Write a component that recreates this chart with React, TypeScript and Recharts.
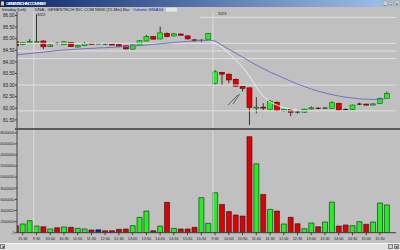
import {
  Bar,
  BarChart,
  Cell,
  ComposedChart,
  Line,
  ReferenceLine,
  XAxis,
  YAxis,
} from "recharts";

// 15-min bars: 15:15-15:45 of the prior session, then 3/22 and 3/23 (9:30-15:45)
const opens = [
  84.87, 84.75, 84.86, 84.85, 84.9, 84.67, 84.79, 84.74, 84.84, 84.64, 84.7, 84.8, 84.78, 84.78, 84.77,
  84.74, 84.69, 84.55, 84.72, 84.9, 85.09, 84.99, 85.22, 85.12, 85.2, 85.12, 84.95, 84.92, 84.97,
  83.07, 83.55, 83.47, 83.25, 82.94, 82.88, 82.02, 82.05, 81.96, 82.26, 81.89, 81.96, 81.85, 81.83,
  81.97, 82.01, 82.0, 82.0, 82.21, 81.94, 81.95, 82.17, 82.18, 82.14, 82.2, 82.43,
];
const highs = [
  84.9, 84.86, 84.98, 86.05, 84.93, 84.76, 84.86, 84.9, 84.86, 84.73, 84.86, 84.82, 84.8, 84.8, 84.79,
  84.76, 84.71, 84.75, 84.94, 85.16, 85.12, 85.52, 85.27, 85.24, 85.22, 85.15, 84.99, 84.97, 85.25,
  83.65, 83.57, 83.5, 83.28, 82.96, 82.9, 82.48, 82.22, 82.35, 82.29, 81.98, 81.98, 81.9, 81.98,
  82.08, 82.05, 82.03, 82.3, 82.24, 81.99, 82.16, 82.24, 82.2, 82.21, 82.46, 82.72,
];
const lows = [
  84.66, 84.72, 84.8, 84.82, 84.55, 84.64, 84.75, 84.72, 84.64, 84.62, 84.68, 84.76, 84.76, 84.74, 84.72,
  84.66, 84.53, 84.53, 84.7, 84.88, 84.96, 84.97, 85.06, 85.09, 85.13, 84.96, 84.88, 84.85, 84.94,
  83.02, 83.0, 83.08, 82.93, 82.72, 81.28, 81.78, 81.92, 81.93, 81.87, 81.86, 81.66, 81.78, 81.81,
  81.95, 81.96, 81.98, 81.98, 81.9, 81.9, 81.93, 82.14, 82.12, 82.12, 82.18, 82.41,
];
const closes = [
  84.69, 84.84, 84.88, 84.88, 84.65, 84.73, 84.8, 84.86, 84.66, 84.71, 84.8, 84.78, 84.78, 84.77, 84.75,
  84.68, 84.56, 84.73, 84.91, 85.1, 84.98, 85.25, 85.09, 85.21, 85.15, 84.99, 84.93, 84.93, 85.22,
  83.57, 83.47, 83.22, 82.95, 82.86, 82.03, 82.05, 82.03, 82.31, 81.9, 81.96, 81.83, 81.84, 81.96,
  82.02, 82.0, 82.01, 82.24, 81.92, 81.95, 82.14, 82.18, 82.14, 82.19, 82.43, 82.64,
];
const ema34 = [
  84.29, 84.33, 84.36, 84.39, 84.42, 84.45, 84.49, 84.51, 84.53, 84.55, 84.57, 84.58, 84.6, 84.61, 84.63,
  84.64, 84.66, 84.68, 84.7, 84.73, 84.75, 84.78, 84.81, 84.84, 84.86, 84.88, 84.9, 84.92, 84.93,
  84.9, 84.72, 84.55, 84.38, 84.21, 84.03, 83.86, 83.71, 83.56, 83.43, 83.3, 83.17, 83.04, 82.94,
  82.83, 82.74, 82.66, 82.59, 82.53, 82.48, 82.44, 82.41, 82.39, 82.38, 82.38, 82.42,
];
// light trail line after the gap down (only on 3/23 morning)
const trail: (number | null)[] = [
  null, null, null, null, null, null, null, null, null, null, null, null, null, null, null,
  null, null, null, null, null, null, null, null, null, null, null, null, null, 84.94,
  84.81, 84.64, 84.38, 84.08, 83.78, 83.39, 82.91, 82.53, 82.27, 82.14, 82.03, 81.97, 81.92, null,
  null, null, null, null, null, null, null, null, null, null, null, null,
];
const volumes = [
  1260000, 1570000, 2160000, 1200000, 1080000, 670000, 900000, 1030000, 970000, 790000,
  670000, 490000, 540000, 360000, 360000, 610000, 670000, 1260000, 2770000, 3900000,
  360000, 1200000, 5470000, 790000, 670000, 670000, 970000, 6300000, 1690000, 7200000,
  5100000, 3800000, 3200000, 3000000, 17300000, 12400000, 6900000, 4200000, 3900000, 1570000,
  2770000, 1620000, 720000, 1750000, 1080000, 1930000, 5500000, 1200000, 1390000, 1260000,
  1980000, 1510000, 1930000, 5350000, 5000000,
];
// u = up, d = down, n = unchanged
const volumeDir = [
  "d", "u", "u", "u", "d", "u", "d", "u", "d", "u", "u", "d", "n", "d", "d", "d", "d", "u", "u", "u",
  "d", "u", "d", "u", "d", "d", "d", "u", "u", "u", "d", "d", "d", "d", "d", "u", "d", "u", "d", "u",
  "d", "d", "u", "u", "d", "u", "u", "d", "d", "u", "u", "d", "u", "u", "u",
];
const timeTicks = [1, 3, 5, 7, 9, 11, 13, 15, 17, 19, 21, 23, 25, 27, 29, 31, 33, 35, 37, 39, 41, 43, 45, 47, 49, 51, 53];
const timeLabels = [
  "15:30", "9:30", "10:00", "10:30", "11:00", "11:30", "12:00", "12:30", "13:00", "13:30", "14:00",
  "14:30", "15:00", "15:30", "9:30", "10:00", "10:30", "11:00", "11:30", "12:00", "12:30", "13:00",
  "13:30", "14:00", "14:30", "15:00", "15:30",
];
const priceTicks = [81.5, 82, 82.5, 83, 83.5, 84, 84.5, 85, 85.5, 86];
const volumeTicks = [0, 2e6, 4e6, 6e6, 8e6, 10e6, 12e6, 14e6, 16e6, 18e6];
const guideLevels = [84.8, 84.47, 84.14, 83.0, 81.89];
const daySplits = [2.6, 28.7];

const COLORS = {
  bg: "#c0c0c0",
  up: "#22f022",
  down: "#e00000",
  flat: "#1020c0",
  ema: "#7272c8",
  guide: "#e2e2e2",
  axis: "#404040",
  text: "#202020",
};
const FONT = "'Liberation Sans', Arial, sans-serif";
const xDomain: [number, number] = [0.17, 55.34];

const priceData = opens.map((o, i) => ({
  i,
  open: o,
  high: highs[i],
  low: lows[i],
  close: closes[i],
  ema: ema34[i],
  trail: trail[i],
}));
const volumeData = volumes.map((v, i) => ({ i, vol: v, dir: volumeDir[i] }));

// eslint-disable-next-line @typescript-eslint/no-explicit-any
function Candle(props: any) {
  const { x, y, width, height, payload } = props;
  if (!payload) return null;
  const { open, close, high, low } = payload;
  const top = height >= 0 ? y : y + height;
  const h = Math.abs(height);
  const ppu = h / (high - low);
  const yOf = (v: number) => top + (high - v) * ppu;
  const cx = x + width / 2;
  const diff = close - open;
  const wick = <line x1={cx} x2={cx} y1={yOf(high)} y2={yOf(low)} stroke="#111" strokeWidth={0.8} />;
  if (Math.abs(diff) < 0.015) {
    return (
      <g>
        {wick}
        <line x1={x} x2={x + width} y1={yOf(close)} y2={yOf(close)} stroke="#111" strokeWidth={1} />
      </g>
    );
  }
  const bTop = yOf(Math.max(open, close));
  const bH = Math.max(1, yOf(Math.min(open, close)) - bTop);
  return (
    <g>
      {wick}
      <rect
        x={x}
        y={bTop}
        width={width}
        height={bH}
        fill={diff > 0 ? COLORS.up : COLORS.down}
        stroke={diff > 0 ? "#156015" : "#600000"}
        strokeWidth={0.6}
      />
    </g>
  );
}

function Header() {
  return (
    <svg
      width={400}
      height={18}
      style={{ position: "absolute", left: 0, top: 0, pointerEvents: "none" }}
      fontFamily={FONT}
    >
      <defs>
        <linearGradient id="tb" x1="0" x2="1" y1="0" y2="0">
          <stop offset="0" stopColor="#0a246a" />
          <stop offset="1" stopColor="#a6c4ec" />
        </linearGradient>
      </defs>
      <rect x={0} y={0} width={400} height={7} fill="url(#tb)" />
      <rect x={1} y={1.5} width={3} height={4} fill="#e0d080" />
      <text x={6} y={5.4} fontSize={4.4} fill="#fff" fontWeight="bold" textLength={40}>
        GENENTECH INC COM NEW
      </text>
      {[383, 389, 395].map((bx, k) => (
        <g key={bx}>
          <rect x={bx} y={1} width={4.6} height={4.6} fill="#d4d0c8" stroke="#808080" strokeWidth={0.4} />
          <text x={bx + 1.1} y={4.9} fontSize={3.6} fill="#000">
            {k === 0 ? "_" : k === 1 ? "□" : "x"}
          </text>
        </g>
      ))}
      <text x={2} y={10.8} fontSize={4.3} fill={COLORS.text} textLength={24}>
        Intraday (Left)
      </text>
      <text x={35} y={10.8} fontSize={4.3} fill={COLORS.text} textLength={87}>
        DNA - GENENTECH INC COM NEW (15-Min)
      </text>
      <text x={123} y={10.8} fontSize={4.3} fill={COLORS.text}>
        Bar
      </text>
      <text x={133} y={10.8} fontSize={4.3} fill="#2020c0">
        Volume
      </text>
      <text x={149} y={10.8} fontSize={4.3} fill="#2020c0">
        EMA34
      </text>
      <rect x={166} y={7.6} width={11} height={4} fill="#e6e6e6" />
      <text x={37} y={16} fontSize={4.3} fill={COLORS.text}>
        3/22
      </text>
      <text x={218} y={15} fontSize={4.3} fill={COLORS.text}>
        3/23
      </text>
    </svg>
  );
}

export default function App() {
  const tickStyle = { fontSize: 4.6, fill: COLORS.text, fontFamily: FONT };
  return (
    <div
      style={{
        position: "absolute",
        left: 0,
        top: 0,
        width: 400,
        height: 250,
        background: COLORS.bg,
        overflow: "hidden",
      }}
    >
      <div style={{ position: "absolute", left: 0, top: 0 }}>
        <ComposedChart
          width={400}
          height={130}
          data={priceData}
          margin={{ top: 12, right: 4, bottom: 2, left: 0 }}
        >
          <XAxis dataKey="i" type="number" domain={xDomain} allowDataOverflow hide />
          <YAxis
            domain={[81.15, 86.15]}
            allowDataOverflow
            ticks={priceTicks}
            interval={0}
            width={17}
            tick={tickStyle}
            tickSize={2}
            tickMargin={0.5}
            tickFormatter={(v: number) => v.toFixed(2)}
            axisLine={{ stroke: COLORS.axis }}
            tickLine={{ stroke: COLORS.axis }}
          />
          {guideLevels.map((lv) => (
            <ReferenceLine key={lv} y={lv} stroke={COLORS.guide} strokeWidth={1} />
          ))}
          <ReferenceLine
            segment={[
              { x: 26.8, y: 85.92 },
              { x: 55.34, y: 85.92 },
            ]}
            stroke={COLORS.guide}
          />
          {daySplits.map((d) => (
            <ReferenceLine key={d} x={d} stroke="#dcdcdc" strokeWidth={1} />
          ))}
          <ReferenceLine
            segment={[
              { x: 30.9, y: 82.14 },
              { x: 32.3, y: 82.57 },
            ]}
            stroke="#383838"
            strokeWidth={0.7}
          />
          <ReferenceLine
            segment={[
              { x: 31.6, y: 82.18 },
              { x: 32.6, y: 82.62 },
            ]}
            stroke="#383838"
            strokeWidth={0.7}
          />
          <Line
            dataKey="trail"
            stroke="#eeeeee"
            strokeWidth={1}
            dot={false}
            connectNulls={false}
            isAnimationActive={false}
          />
          <Line dataKey="ema" stroke={COLORS.ema} strokeWidth={1} dot={false} isAnimationActive={false} />
          <Bar
            dataKey={(d: { low: number; high: number }) => [d.low, d.high]}
            barSize={5}
            shape={<Candle />}
            isAnimationActive={false}
          />
        </ComposedChart>
      </div>
      <div
        style={{
          position: "absolute",
          left: 15,
          top: 127.5,
          width: 385,
          height: 2,
          background: "#5a5a5a",
        }}
      />
      <div style={{ position: "absolute", left: 0, top: 128 }}>
        <BarChart
          width={400}
          height={122}
          data={volumeData}
          margin={{ top: 2, right: 4, bottom: 0, left: 0 }}
        >
          <XAxis
            dataKey="i"
            type="number"
            domain={xDomain}
            allowDataOverflow
            ticks={timeTicks}
            interval={0}
            height={17.3}
            tick={{ fontSize: 3.8, fill: COLORS.text, fontFamily: FONT }}
            tickSize={2.5}
            tickMargin={2}
            tickFormatter={(v: number) => timeLabels[timeTicks.indexOf(v)] ?? ""}
            axisLine={{ stroke: COLORS.axis }}
            tickLine={{ stroke: COLORS.axis }}
          />
          <YAxis
            domain={[0, 18.5e6]}
            allowDataOverflow
            ticks={volumeTicks}
            interval={0}
            width={17}
            tick={{ fontSize: 3.6, fill: COLORS.text, fontFamily: FONT }}
            tickSize={2}
            tickMargin={0.5}
            tickFormatter={(v: number) => String(v)}
            axisLine={{ stroke: COLORS.axis }}
            tickLine={{ stroke: COLORS.axis }}
          />
          {daySplits.map((d) => (
            <ReferenceLine key={d} x={d} stroke="#dcdcdc" strokeWidth={1} />
          ))}
          <Bar dataKey="vol" barSize={5} stroke="#1a1a1a" strokeWidth={0.6} isAnimationActive={false}>
            {volumeData.map((d) => (
              <Cell
                key={d.i}
                fill={d.dir === "u" ? COLORS.up : d.dir === "d" ? COLORS.down : COLORS.flat}
              />
            ))}
          </Bar>
        </BarChart>
      </div>
      <div
        style={{
          position: "absolute",
          left: 0,
          top: 243,
          width: 400,
          height: 7,
          background: "#e2e2e2",
          borderTop: "1px solid #f4f4f4",
          boxSizing: "border-box",
        }}
      />
      {[0, 388, 394].map((bx, k) => (
        <div
          key={bx}
          style={{
            position: "absolute",
            left: bx,
            top: 244,
            width: 5,
            height: 5,
            background: "#d4d0c8",
            border: "0.5px solid #808080",
            boxSizing: "border-box",
            fontSize: 4,
            lineHeight: "4px",
            textAlign: "center",
            fontFamily: FONT,
          }}
        >
          {k === 0 ? "◂" : k === 1 ? "" : "▸"}
        </div>
      ))}
      <Header />
    </div>
  );
}
